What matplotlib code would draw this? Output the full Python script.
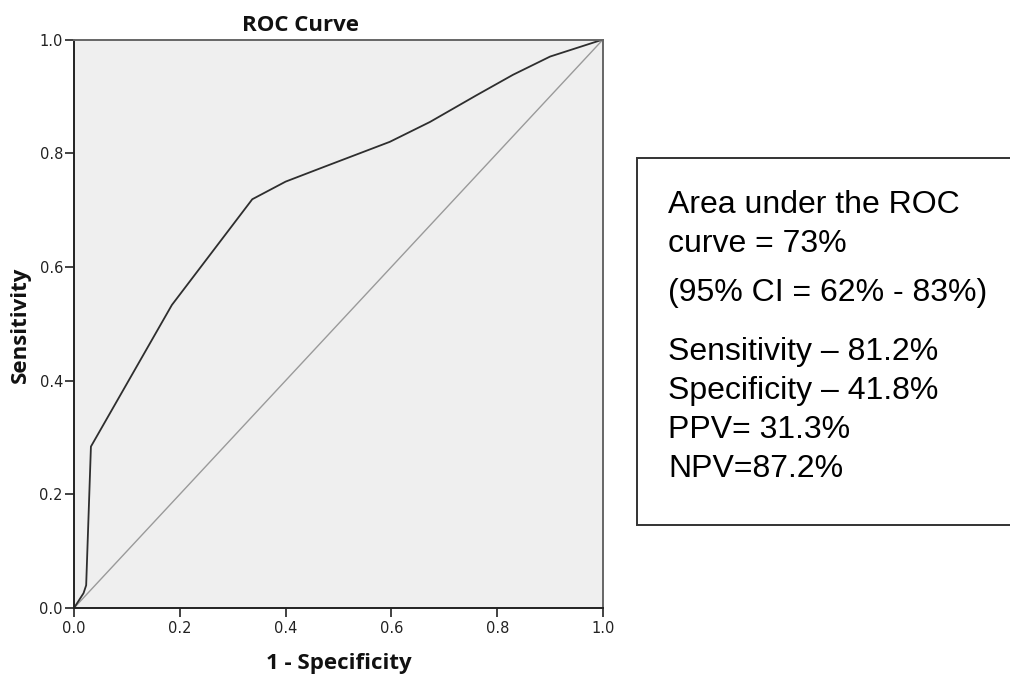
import matplotlib.pyplot as plt
from matplotlib.patches import Rectangle

# ROC curve points (1 - specificity, sensitivity)
fpr = [0.0, 0.018, 0.023, 0.032, 0.185, 0.337, 0.40, 0.47, 0.597, 0.673, 0.761, 0.83, 0.90, 1.0]
tpr = [0.0, 0.026, 0.040, 0.284, 0.533, 0.719, 0.75, 0.775, 0.82, 0.855, 0.902, 0.938, 0.970, 1.0]

# reference (chance) line
ref_x = [0.0, 1.0]
ref_y = [0.0, 1.0]

ticks = [0.0, 0.2, 0.4, 0.6, 0.8, 1.0]
tick_labels = ['0.0', '0.2', '0.4', '0.6', '0.8', '1.0']

box_lines = [
    ('Area under the ROC', 213),
    ('curve = 73%', 252),
    ('(95% CI = 62% - 83%)', 301),
    ('Sensitivity \u2013 81.2%', 360),
    ('Specificity \u2013 41.8%', 399),
    ('PPV= 31.3%', 438),
    ('NPV=87.2%', 477),
]

W, H = 1010, 675
fig = plt.figure(figsize=(W / 100, H / 100), dpi=100)
fig.patch.set_facecolor('white')

ax = fig.add_axes([74 / W, 1 - 608 / H, (603 - 74) / W, (608 - 39.5) / H])
ax.set_facecolor('#efefef')

ax.plot(ref_x, ref_y, color='#9a9a9a', lw=1.0)
ax.plot(fpr, tpr, color='#2e2e2e', lw=1.3)

ax.set_xlim(0, 1)
ax.set_ylim(0, 1)
ax.set_xticks(ticks)
ax.set_yticks(ticks)
ax.set_xticklabels(tick_labels)
ax.set_yticklabels(tick_labels)
ax.tick_params(direction='out', length=6.5, width=1.2, color='#222222',
               labelsize=10.5, labelcolor='#222222')
ax.tick_params(axis='y', pad=1.5)
ax.tick_params(axis='x', pad=3)
for lab in ax.get_xticklabels() + ax.get_yticklabels():
    lab.set_family('DejaVu Sans')

for side in ['left', 'bottom']:
    ax.spines[side].set_color('#222222')
    ax.spines[side].set_linewidth(1.4)
for side in ['top', 'right']:
    ax.spines[side].set_color('#666666')
    ax.spines[side].set_linewidth(1.4)

# title and axis labels
fig.text(301 / W, 1 - 31 / H, 'ROC Curve', ha='center', va='baseline',
         fontsize=16, fontweight='bold', family='Open Sans', color='#111111')
fig.text(338.5 / W, 1 - 669 / H, '1 - Specificity', ha='center', va='baseline',
         fontsize=16, fontweight='bold', family='Open Sans', color='#111111')
fig.text(20 / W, 1 - 325 / H, 'Sensitivity', ha='center', va='center',
         rotation=90, fontsize=16, fontweight='bold', family='Open Sans',
         color='#111111')

# stats box on the right
fig.patches.append(Rectangle((637 / W, 1 - 525 / H), (1012 - 637) / W, (525 - 158) / H,
                             transform=fig.transFigure, facecolor='white',
                             edgecolor='#333333', lw=1.4))
for txt, yb in box_lines:
    fig.text(668 / W, 1 - yb / H, txt, ha='left', va='baseline',
             fontsize=23, family='Liberation Sans', color='black')

fig.savefig('out.png', dpi=100)
